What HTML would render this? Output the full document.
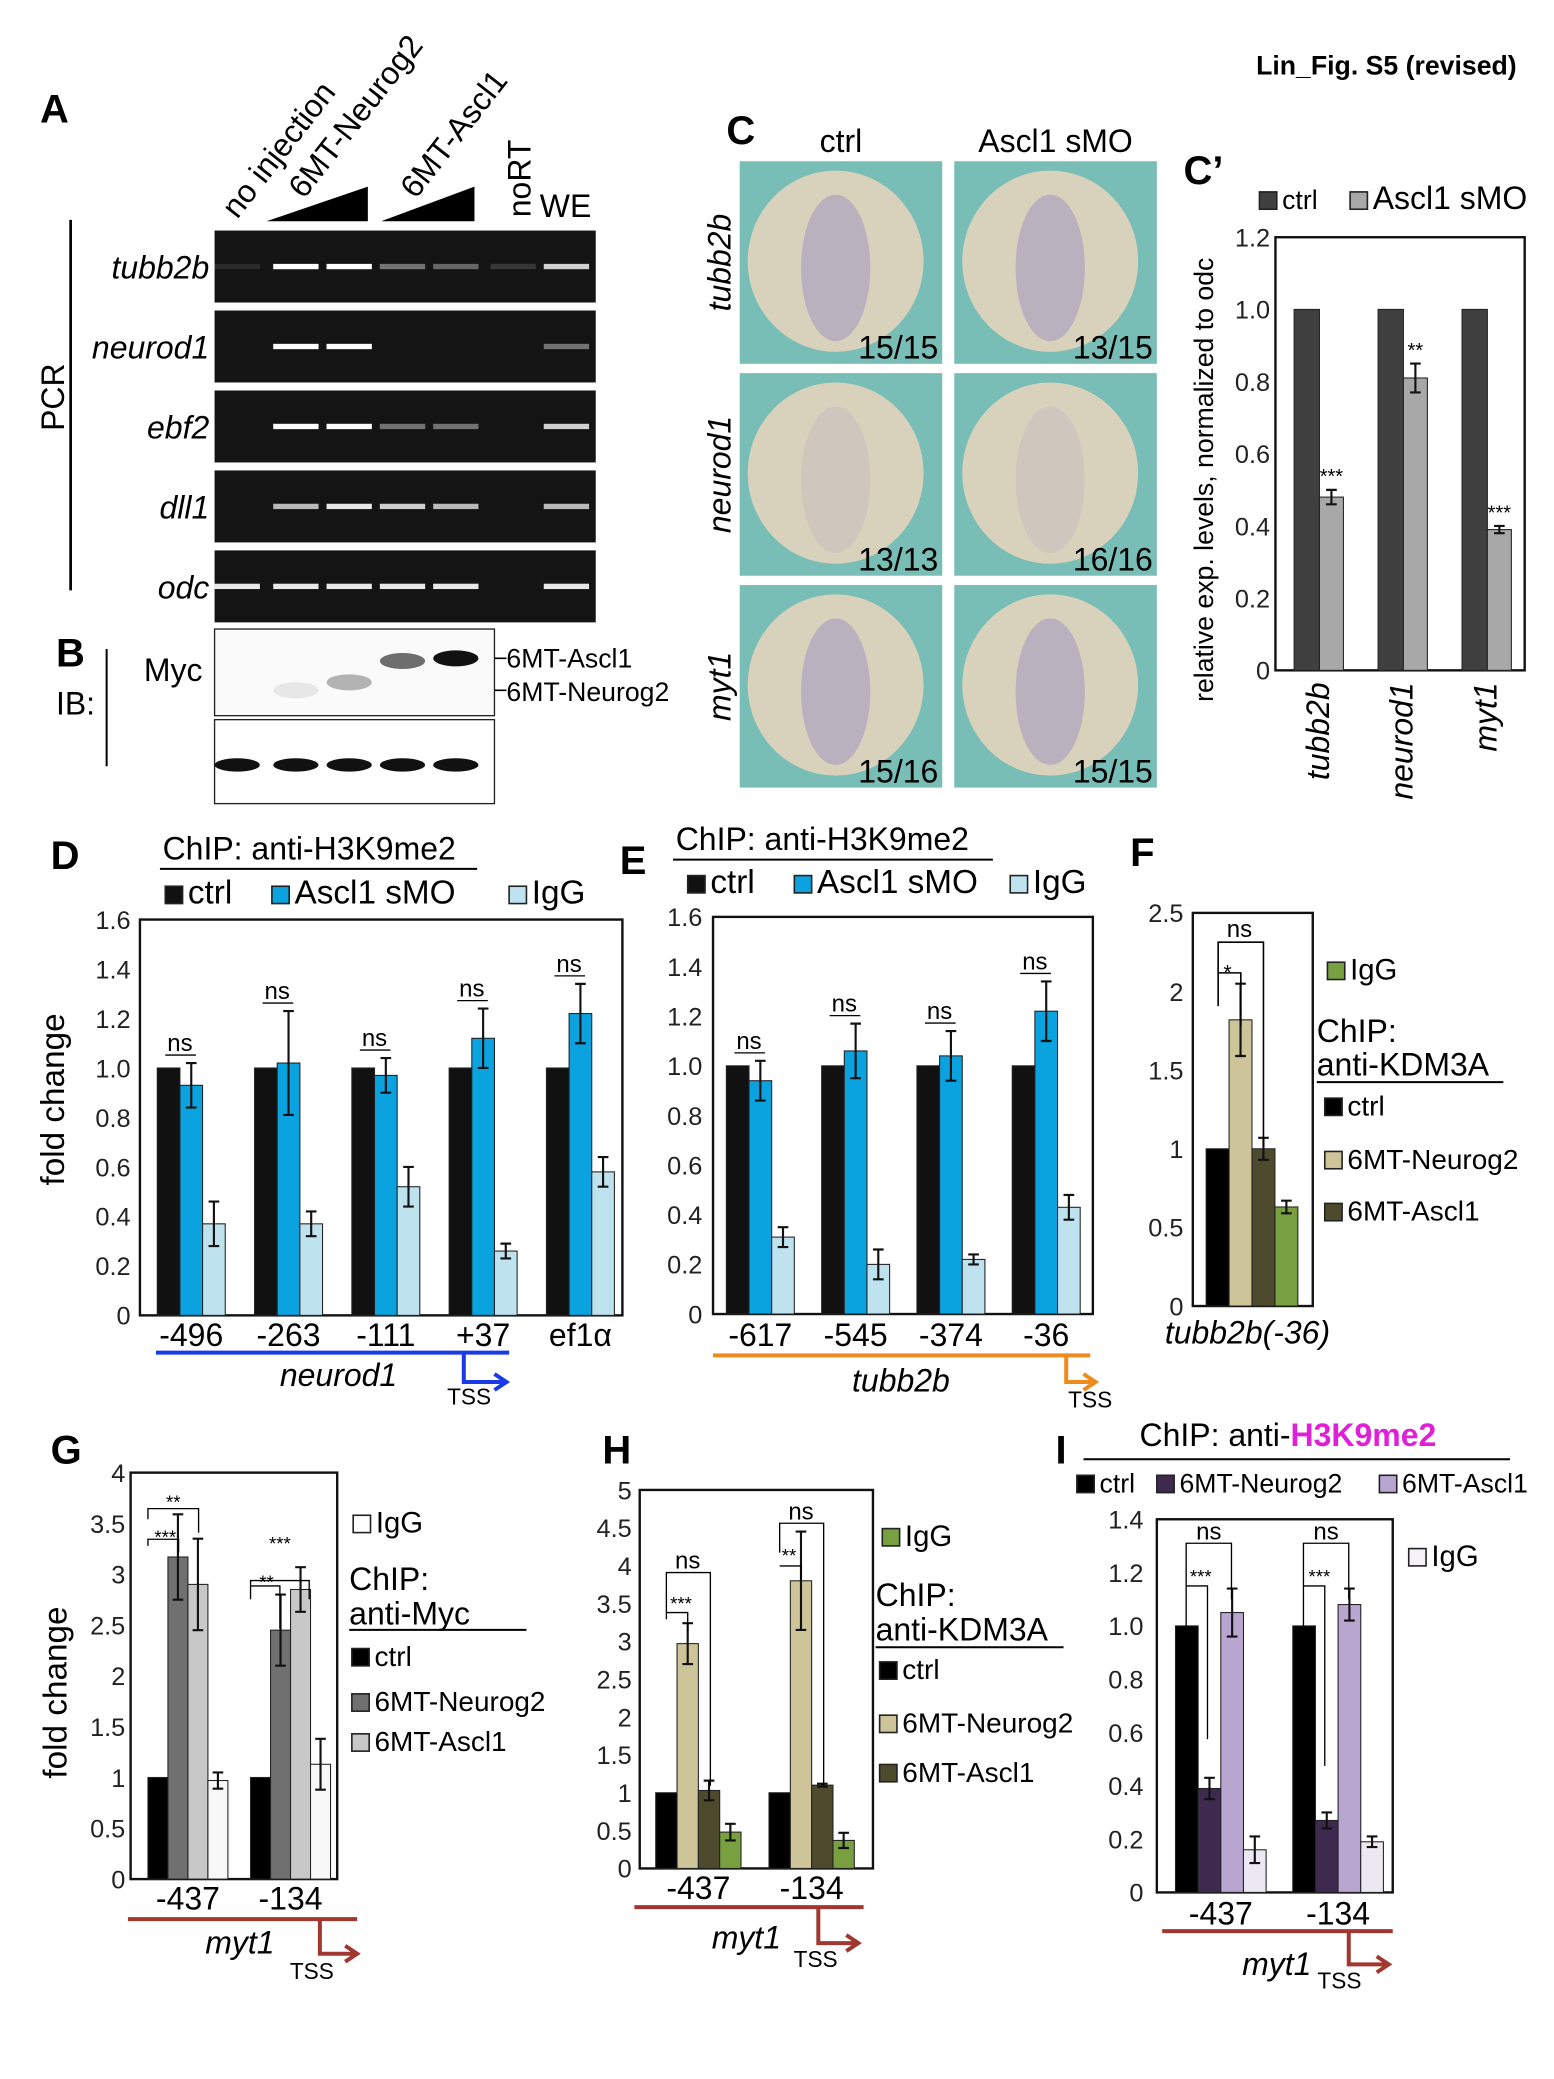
<!DOCTYPE html>
<html><head><meta charset="utf-8"><style>
html,body{margin:0;padding:0;background:#fff}
svg{display:block}
text{font-family:"Liberation Sans",sans-serif}
</style></head><body>
<svg id="fig" width="1554" height="2079" viewBox="0 0 1166 1560" preserveAspectRatio="none" xmlns="http://www.w3.org/2000/svg">
<text x="1138" y="56" font-size="20" font-weight="bold" text-anchor="end">Lin_Fig. S5 (revised)</text>
<g id="static" font-size="22"></g>
</svg>
<script>
// ---------- data ----------
const cpLabels=['tubb2b','neurod1','myt1'];
const cpCtrl=[1,1,1];
const cpMO=[0.48,0.81,0.39];
const cpErr=[0.02,0.04,0.01];
const cpStars=['***','**','***'];

const dCats=['-496','-263','-111','+37','ef1α'];
const dCtrl=[1,1,1,1,1];
const dMO=[0.93,1.02,0.97,1.12,1.22];
const dIgG=[0.37,0.37,0.52,0.26,0.58];
const dErrMO=[0.09,0.21,0.07,0.12,0.12];
const dErrIgG=[0.09,0.05,0.08,0.03,0.06];
const dSig=['ns','ns','ns','ns','ns'];

const eCats=['-617','-545','-374','-36'];
const eCtrl=[1,1,1,1];
const eMO=[0.94,1.06,1.04,1.22];
const eIgG=[0.31,0.2,0.22,0.43];
const eErrMO=[0.08,0.11,0.1,0.12];
const eErrIgG=[0.04,0.06,0.02,0.05];
const eSig=['ns','ns','ns','ns'];

const fVals=[1,1.82,1.0,0.63];
const fErr=[0,0.23,0.07,0.04];

const gCats=['-437','-134'];
const gCtrl=[1,1];
const gNeurog2=[3.17,2.45];
const gAscl1=[2.9,2.85];
const gIgG=[0.97,1.13];
const gErrN=[0.42,0.35];
const gErrA=[0.45,0.22];
const gErrI=[0.08,0.25];

const hCats=['-437','-134'];
const hCtrl=[1,1];
const hNeurog2=[2.97,3.8];
const hAscl1=[1.03,1.1];
const hIgG=[0.48,0.37];
const hErrN=[0.27,0.65];
const hErrA=[0.13,0.02];
const hErrI=[0.11,0.1];

const iCats=['-437','-134'];
const iCtrl=[1,1];
const iNeurog2=[0.39,0.27];
const iAscl1=[1.05,1.08];
const iIgG=[0.16,0.19];
const iErrN=[0.04,0.03];
const iErrA=[0.09,0.06];
const iErrI=[0.05,0.02];

// ---------- helpers ----------
const NS='http://www.w3.org/2000/svg';
const svg=document.getElementById('fig');
function el(tag,attrs,parent,txt){const e=document.createElementNS(NS,tag);for(const k in attrs)e.setAttribute(k,attrs[k]);if(txt!==undefined)e.textContent=txt;(parent||svg).appendChild(e);return e;}
function T(x,y,s,size,opt){opt=opt||{};const e=el('text',Object.assign({x:x,y:y,'font-size':size},opt));e.textContent=s;


return e;}

function axisY(x,yZero,yTop,max,ticks,fmt,size){
 const sc=v=>yZero-(v/max)*(yZero-yTop);
 ticks.forEach(t=>{const e=T(x,sc(t)+7,fmt(t),size||19,{'text-anchor':'end',fill:'#222',nm:'y-tick'});});
 return sc;
}
function bar(x,w,y0,y,fill,nm){const r=el('rect',{x:x,y:y,width:w,height:y0-y,fill:fill,stroke:'#222','stroke-width':0.8});


return r;}
function err(cx,sc,v,e){if(!e)return;const g=el('path',{d:`M${cx} ${sc(v+e)}V${sc(v-e)}M${cx-4} ${sc(v+e)}H${cx+4}M${cx-4} ${sc(v-e)}H${cx+4}`,stroke:'#111','stroke-width':1.6,fill:'none'});

}
function box(x0,y0,x1,y1,nm){const r=el('rect',{x:x0,y:y0,width:x1-x0,height:y1-y0,fill:'none',stroke:'#111','stroke-width':1.8});

}
function legendSq(x,y,fill,label,size){const r=el('rect',{x:x,y:y-13,width:13,height:13,fill:fill,stroke:'#222','stroke-width':1.2});


T(x+17,y,label,size||22,{nm:'legend-entry'});}
function grouped(series,colors,errs,cfg){
 const sc=cfg.sc;
 series[0].forEach((_,i)=>{
  const gx=cfg.x0+i*cfg.step;
  series.forEach((s,j)=>{const bx=gx+j*cfg.bw;bar(bx,cfg.bw,sc(0),sc(s[i]),colors[j],'bar-'+cfg.name+'-'+i+'-'+j);
   if(errs[j])err(bx+cfg.bw/2,sc,s[i],errs[j][i]);});
  if(cfg.cats)T(gx+cfg.bw*series.length/2,cfg.catY,cfg.cats[i],24,{'text-anchor':'middle',nm:'x-category'});
 });
}

// ---------- Panel A: gel ----------
T(30,92,'A',30,{'font-weight':'bold',nm:'panel-a-label'});
const lanes=[178,222,262,302,342,385,425];
const colLabels=[['no injection',178,165],['6MT-Neurog2',228,150],['6MT-Ascl1',312,150]];
colLabels.forEach(c=>{T(c[1],c[2],c[0],24,{transform:`rotate(-52 ${c[1]} ${c[2]})`,nm:'lane-label'});});
T(398,163,'noRT',24,{transform:'rotate(-90 398 163)',nm:'lane-label'});
T(405,163,'WE',24,{nm:'lane-label'});
el('polygon',{points:'200,166 276,140 276,166',fill:'#000'});
el('polygon',{points:'286,166 356,140 356,166',fill:'#000'});
const genes=['tubb2b','neurod1','ebf2','dll1','odc'];
const bandPattern=[[.1,1,1,.4,.35,.15,.8],[0,1,1,0,0,0,.4],[0,1,1,.4,.4,0,.8],[0,.7,.9,.8,.7,0,.7],[.9,.9,.9,.9,.9,0,.9]];
genes.forEach((g,r)=>{const y=173+r*60;
 const rr=el('rect',{x:161,y:y,width:286,height:54,fill:'#141414'});
 
 
 T(157,y+36,g,24,{'text-anchor':'end','font-style':'italic',nm:'gene-label'});
 bandPattern[r].forEach((v,k)=>{if(v>0)el('rect',{x:lanes[k]-17,y:y+25,width:34,height:4,fill:'#fff',opacity:v});});
});
el('line',{x1:53,y1:165,x2:53,y2:443,stroke:'#000','stroke-width':2});
T(48,298,'PCR',24,{transform:'rotate(-90 48 298)','text-anchor':'middle',nm:'pcr-label'});
// Panel B
T(42,500,'B',30,{'font-weight':'bold',nm:'panel-b-label'});
T(42,536,'IB:',24,{nm:'ib-label'});
el('line',{x1:80,y1:487,x2:80,y2:575,stroke:'#000','stroke-width':1.5});
T(108,511,'Myc',24,{nm:'myc-label'});
el('rect',{x:161,y:472,width:210,height:65,fill:'#fafafa',stroke:'#222','stroke-width':1});
[[222,518,.08],[262,512,.3],[302,496,.6],[342,494,1]].forEach(b=>el('ellipse',{cx:b[0],cy:b[1],rx:17,ry:6,fill:'#111',opacity:b[2]}));
el('rect',{x:161,y:540,width:210,height:63,fill:'#fff',stroke:'#222','stroke-width':1});
lanes.slice(0,5).forEach(x=>el('ellipse',{cx:x,cy:574,rx:17,ry:5,fill:'#111'}));
el('path',{d:'M371 494H380M371 518H380',stroke:'#000','stroke-width':1.2});
T(380,501,'6MT-Ascl1',20,{nm:'band-label'});
T(380,526,'6MT-Neurog2',20,{nm:'band-label'});

// ---------- Panel C: images ----------
T(545,108,'C',30,{'font-weight':'bold',nm:'panel-c-label'});
T(631,114,'ctrl',24,{'text-anchor':'middle',nm:'column-label'});
T(792,114,'Ascl1 sMO',24,{'text-anchor':'middle',nm:'column-label'});
const cRows=['tubb2b','neurod1','myt1'];
const cNums=[['15/15','13/15'],['13/13','16/16'],['15/16','15/15']];
cRows.forEach((g,r)=>{const y=121+r*159;
 T(548,y+76,g,24,{transform:`rotate(-90 548 ${y+76})`,'text-anchor':'middle','font-style':'italic',nm:'row-label'});
 [555,716].forEach((x,c)=>{
  el('rect',{x:x,y:y,width:152,height:152,fill:'#78bdb6'});
  el('ellipse',{cx:x+72,cy:y+75,rx:66,ry:68,fill:'#d8d2bc'});
  el('ellipse',{cx:x+72,cy:y+80,rx:26,ry:55,fill:'#9b8fc2',opacity:r===1?0.15:0.5});
  T(x+149,y+148,cNums[r][c],24,{'text-anchor':'end',nm:'embryo-count'});
 });
});

// ---------- Panel C' ----------
T(888,138,'C’',30,{'font-weight':'bold',nm:'panel-c-prime-label'});
legendSq(945,157,'#404040','ctrl',20);legendSq(1013,157,'#a8a8a8','Ascl1 sMO',24);
const scCp=axisY(953,503,178,1.2,[0,0.2,0.4,0.6,0.8,1.0,1.2],t=>t===0?'0':t.toFixed(1),19);
box(957,178,1144,503,'chart-c-prime-frame');
cpLabels.forEach((l,i)=>{const gx=971+i*63;
 bar(gx,19,scCp(0),scCp(cpCtrl[i]),'#404040','bar-ctrl-'+l);
 bar(gx+19,18,scCp(0),scCp(cpMO[i]),'#a8a8a8','bar-mo-'+l);
 err(gx+28,scCp,cpMO[i],cpErr[i]);
 T(gx+28,scCp(cpMO[i]+cpErr[i])-5,cpStars[i],15,{'text-anchor':'middle',nm:'significance'});
 T(gx+26,512,l,24,{transform:`rotate(-90 ${gx+26} 512)`,'text-anchor':'end','font-style':'italic',nm:'x-category'});
});
T(910,360,'relative exp. levels, normalized to odc',20,{transform:'rotate(-90 910 360)','text-anchor':'middle',nm:'y-axis-title'});

// ---------- Panel D ----------
T(38,652,'D',30,{'font-weight':'bold',nm:'panel-d-label'});
T(122,645,'ChIP: anti-H3K9me2',24,{nm:'chart-title'});
el('line',{x1:120,y1:652,x2:358,y2:652,stroke:'#000','stroke-width':1.5});
legendSq(124,678,'#111','ctrl',25);legendSq(204,678,'#0aa3e0','Ascl1 sMO',25);legendSq(382,678,'#bfe3ee','IgG',25);
const scD=axisY(98,987,690,1.6,[0,0.2,0.4,0.6,0.8,1.0,1.2,1.4,1.6],t=>t===0?'0':t.toFixed(1),19);
box(105,690,467,987,'chart-d-frame');
grouped([dCtrl,dMO,dIgG],['#111','#0aa3e0','#bfe3ee'],[null,dErrMO,dErrIgG],{sc:scD,x0:118,step:73,bw:17,cats:dCats,catY:1010,name:'d'});
dSig.forEach((s,i)=>{const y=scD(dMO[i]+dErrMO[i])-9;T(135+i*73,y,s,18,{'text-anchor':'middle',nm:'significance'});el('line',{x1:124+i*73,y1:y+3,x2:147+i*73,y2:y+3,stroke:'#000'});});
el('line',{x1:117,y1:1015,x2:382,y2:1015,stroke:'#1a3ae8','stroke-width':3});
el('path',{d:'M348 1015V1037H378M371 1031L380 1037L371 1043',stroke:'#1a3ae8','stroke-width':3,fill:'none'});
T(254,1040,'neurod1',24,{'text-anchor':'middle','font-style':'italic',nm:'gene-label'});
T(352,1054,'TSS',17,{'text-anchor':'middle',nm:'tss-label'});
T(48,825,'fold change',25,{transform:'rotate(-90 48 825)','text-anchor':'middle',nm:'y-axis-title'});

// ---------- Panel E ----------
T(465,656,'E',30,{'font-weight':'bold',nm:'panel-e-label'});
T(507,638,'ChIP: anti-H3K9me2',24,{nm:'chart-title'});
el('line',{x1:505,y1:645,x2:745,y2:645,stroke:'#000','stroke-width':1.5});
legendSq(516,670,'#111','ctrl',25);legendSq(596,670,'#0aa3e0','Ascl1 sMO',25);legendSq(758,670,'#bfe3ee','IgG',25);
const scE=axisY(527,986,688,1.6,[0,0.2,0.4,0.6,0.8,1.0,1.2,1.4,1.6],t=>t===0?'0':t.toFixed(1),19);
box(535,688,820,986,'chart-e-frame');
grouped([eCtrl,eMO,eIgG],['#111','#0aa3e0','#bfe3ee'],[null,eErrMO,eErrIgG],{sc:scE,x0:545,step:71.5,bw:17,cats:eCats,catY:1010,name:'e'});
eSig.forEach((s,i)=>{const y=scE(eMO[i]+eErrMO[i])-9;T(562+i*71.5,y,s,18,{'text-anchor':'middle',nm:'significance'});el('line',{x1:551+i*71.5,y1:y+3,x2:574+i*71.5,y2:y+3,stroke:'#000'});});
el('line',{x1:535,y1:1017,x2:818,y2:1017,stroke:'#ee8a1e','stroke-width':3});
el('path',{d:'M800 1017V1037H820M813 1031L822 1037L813 1043',stroke:'#ee8a1e','stroke-width':3,fill:'none'});
T(676,1044,'tubb2b',24,{'text-anchor':'middle','font-style':'italic',nm:'gene-label'});
T(818,1056,'TSS',17,{'text-anchor':'middle',nm:'tss-label'});

// ---------- Panel F ----------
T(848,650,'F',30,{'font-weight':'bold',nm:'panel-f-label'});
const scF=axisY(888,980,685,2.5,[0,0.5,1,1.5,2,2.5],t=>String(t),19);
box(895,685,985,980,'chart-f-frame');
const fCols=['#000','#cdc49a','#4e4a2e','#78a040'];
fVals.forEach((v,j)=>{const bx=905+j*17.2;bar(bx,17.2,scF(0),scF(v),fCols[j],'bar-f-'+j);err(bx+8.6,scF,v,fErr[j]);});
el('path',{d:'M914 755V707H948V860M914 730H931V770',stroke:'#000','stroke-width':1.2,fill:'none'});
T(930,703,'ns',18,{'text-anchor':'middle',nm:'significance'});T(921,735,'*',16,{'text-anchor':'middle',nm:'significance'});
T(874,1008,'tubb2b(-36)',24,{'font-style':'italic',nm:'x-category'});
legendSq(996,735,'#78a040','IgG',22);
T(988,782,'ChIP:',24,{nm:'legend-title'});T(988,807,'anti-KDM3A',24,{nm:'legend-title'});
el('line',{x1:988,y1:812,x2:1128,y2:812,stroke:'#000','stroke-width':1.5});
legendSq(994,837,'#000','ctrl',21);legendSq(994,877,'#cdc49a','6MT-Neurog2',21);legendSq(994,916,'#4e4a2e','6MT-Ascl1',21);

// ---------- Panel G ----------
T(38,1098,'G',30,{'font-weight':'bold',nm:'panel-g-label'});
const scG=axisY(94,1410,1105,4,[0,0.5,1,1.5,2,2.5,3,3.5,4],t=>String(t),19);
box(98,1105,253,1410,'chart-g-frame');
grouped([gCtrl,gNeurog2,gAscl1,gIgG],['#000','#707070','#c8c8c8','#f8f8f8'],[null,gErrN,gErrA,gErrI],{sc:scG,x0:111,step:77,bw:15,cats:gCats,catY:1433,name:'g'});
el('path',{d:'M111 1140V1132H149V1150M111 1160V1155H134V1165M188 1195V1186H232V1200M188 1200V1190H210V1222',stroke:'#000','stroke-width':1,fill:'none'});
T(130,1132,'**',14,{'text-anchor':'middle',nm:'significance'});T(124,1158,'***',14,{'text-anchor':'middle',nm:'significance'});
T(210,1163,'***',14,{'text-anchor':'middle',nm:'significance'});T(200,1192,'**',14,{'text-anchor':'middle',nm:'significance'});
el('line',{x1:96,y1:1440,x2:268,y2:1440,stroke:'#a03830','stroke-width':3});
el('path',{d:'M240 1440V1466H266M259 1460L268 1466L259 1472',stroke:'#a03830','stroke-width':3,fill:'none'});
T(180,1466,'myt1',24,{'text-anchor':'middle','font-style':'italic',nm:'gene-label'});
T(234,1485,'TSS',17,{'text-anchor':'middle',nm:'tss-label'});
T(50,1270,'fold change',25,{transform:'rotate(-90 50 1270)','text-anchor':'middle',nm:'y-axis-title'});
legendSq(265,1150,'#fff','IgG',22);
T(262,1193,'ChIP:',24,{nm:'legend-title'});T(262,1219,'anti-Myc',24,{nm:'legend-title'});
el('line',{x1:262,y1:1223,x2:395,y2:1223,stroke:'#000','stroke-width':1.5});
legendSq(264,1250,'#000','ctrl',21);legendSq(264,1284,'#707070','6MT-Neurog2',21);legendSq(264,1314,'#c8c8c8','6MT-Ascl1',21);

// ---------- Panel H ----------
T(452,1098,'H',30,{'font-weight':'bold',nm:'panel-h-label'});
const scH=axisY(474,1402,1118,5,[0,0.5,1,1.5,2,2.5,3,3.5,4,4.5,5],t=>String(t),19);
box(480,1118,655,1402,'chart-h-frame');
grouped([hCtrl,hNeurog2,hAscl1,hIgG],['#000','#cdc49a','#4e4a2e','#78a040'],[null,hErrN,hErrA,hErrI],{sc:scH,x0:492,step:85,bw:16,cats:hCats,catY:1425,name:'h'});
el('path',{d:'M500 1215V1180H533V1340M500 1210H516V1225M585 1165V1143H618V1340M585 1175H601V1185',stroke:'#000','stroke-width':1,fill:'none'});
T(516,1177,'ns',18,{'text-anchor':'middle',nm:'significance'});T(511,1208,'***',14,{'text-anchor':'middle',nm:'significance'});
T(601,1140,'ns',18,{'text-anchor':'middle',nm:'significance'});T(592,1172,'**',14,{'text-anchor':'middle',nm:'significance'});
el('line',{x1:476,y1:1431,x2:648,y2:1431,stroke:'#a03830','stroke-width':3});
el('path',{d:'M614 1431V1458H642M635 1452L644 1458L635 1464',stroke:'#a03830','stroke-width':3,fill:'none'});
T(560,1462,'myt1',24,{'text-anchor':'middle','font-style':'italic',nm:'gene-label'});
T(612,1476,'TSS',17,{'text-anchor':'middle',nm:'tss-label'});
legendSq(662,1160,'#78a040','IgG',22);
T(657,1205,'ChIP:',24,{nm:'legend-title'});T(657,1231,'anti-KDM3A',24,{nm:'legend-title'});
el('line',{x1:657,y1:1236,x2:798,y2:1236,stroke:'#000','stroke-width':1.5});
legendSq(660,1260,'#000','ctrl',21);legendSq(660,1300,'#cdc49a','6MT-Neurog2',21);legendSq(660,1337,'#4e4a2e','6MT-Ascl1',21);

// ---------- Panel I ----------
T(792,1098,'I',30,{'font-weight':'bold',nm:'panel-i-label'});
const tI=T(855,1085,'ChIP: anti-',24,{nm:'chart-title'});
const sp=el('tspan',{fill:'#e020d8','font-weight':'bold'},tI,'H3K9me2');
el('line',{x1:813,y1:1095,x2:1133,y2:1095,stroke:'#000','stroke-width':1.5});
legendSq(808,1120,'#000','ctrl',20);legendSq(868,1120,'#3d2a4e','6MT-Neurog2',20);legendSq(1035,1120,'#b8a6d0','6MT-Ascl1',20);
legendSq(1057,1175,'#f4f2f8','IgG',22);
const scI=axisY(858,1420,1140,1.4,[0,0.2,0.4,0.6,0.8,1.0,1.2,1.4],t=>t===0?'0':t.toFixed(1),19);
box(868,1140,1045,1420,'chart-i-frame');
grouped([iCtrl,iNeurog2,iAscl1,iIgG],['#000','#3d2a4e','#b8a6d0','#ece8f2'],[null,iErrN,iErrA,iErrI],{sc:scI,x0:882,step:88,bw:17,cats:iCats,catY:1444,name:'i'});
el('path',{d:'M890 1220V1158H924V1200M890 1190H906V1305M978 1220V1158H1012V1200M978 1190H994V1325',stroke:'#000','stroke-width':1,fill:'none'});
T(907,1155,'ns',18,{'text-anchor':'middle',nm:'significance'});T(901,1188,'***',14,{'text-anchor':'middle',nm:'significance'});
T(995,1155,'ns',18,{'text-anchor':'middle',nm:'significance'});T(990,1188,'***',14,{'text-anchor':'middle',nm:'significance'});
el('line',{x1:872,y1:1449,x2:1045,y2:1449,stroke:'#a03830','stroke-width':3});
el('path',{d:'M1012 1449V1474H1040M1033 1468L1042 1474L1033 1480',stroke:'#a03830','stroke-width':3,fill:'none'});
T(958,1482,'myt1',24,{'text-anchor':'middle','font-style':'italic',nm:'gene-label'});
T(1005,1492,'TSS',17,{'text-anchor':'middle',nm:'tss-label'});
</script>
</body></html>
